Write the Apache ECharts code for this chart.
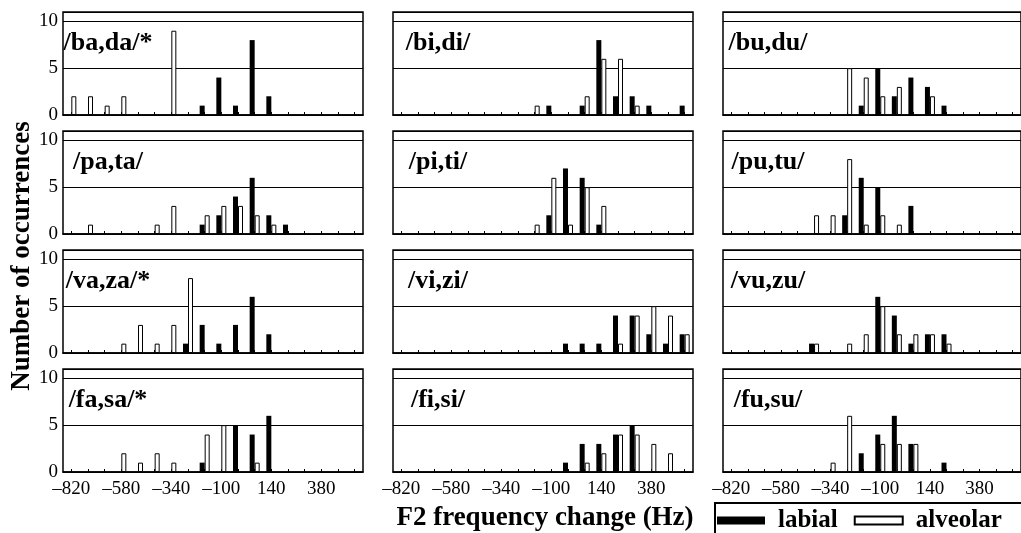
<!DOCTYPE html>
<html>
<head>
<meta charset="utf-8">
<script src="https://cdn.jsdelivr.net/npm/echarts@6/dist/echarts.min.js"></script>
<style>
html, body { margin: 0; padding: 0; background: #fff; }
#view-chart { width: 1021px; height: 533px; }
</style>
</head>
<body>
<div id="view-chart"></div>
<script>
// F2 change bins (Hz), 80 Hz wide
var bins = [-820, -740, -660, -580, -500, -420, -340, -260, -180, -100, -20, 60, 140, 220, 300, 380, 460, 540];
var panelNames = ["/ba,da/*", "/bi,di/", "/bu,du/", "/pa,ta/", "/pi,ti/", "/pu,tu/",
	"/va,za/*", "/vi,zi/", "/vu,zu/", "/fa,sa/*", "/fi,si/", "/fu,su/"];
var yTicks = [0, 5, 10];

var labial = [
	[0,0,0,0,0,0,0,0,1,4,1,8,2,0,0,0,0,0],
	[0,0,0,0,0,0,0,0,0,1,0,1,8,2,2,1,0,1],
	[0,0,0,0,0,0,0,0,1,5,2,4,3,1,0,0,0,0],
	[0,0,0,0,0,0,0,0,1,2,4,6,2,1,0,0,0,0],
	[0,0,0,0,0,0,0,0,0,2,7,6,1,0,0,0,0,0],
	[0,0,0,0,0,0,0,2,6,5,0,3,0,0,0,0,0,0],
	[0,0,0,0,0,0,0,1,3,1,3,6,2,0,0,0,0,0],
	[0,0,0,0,0,0,0,0,0,0,1,1,1,4,4,2,1,2],
	[0,0,0,0,0,1,0,0,0,6,4,1,2,2,0,0,0,0],
	[0,0,0,0,0,0,0,0,1,0,5,4,6,0,0,0,0,0],
	[0,0,0,0,0,0,0,0,0,0,1,3,3,4,5,0,0,0],
	[0,0,0,0,0,0,0,0,2,4,6,3,0,1,0,0,0,0]
];
var alveolar = [
	[2,2,1,2,0,0,9,0,0,0,0,0,0,0,0,0,0,0],
	[0,0,0,0,0,0,0,0,1,0,0,2,6,6,1,0,0,0],
	[0,0,0,0,0,0,0,5,4,2,3,0,2,0,0,0,0,0],
	[0,1,0,0,0,1,3,0,2,3,3,2,1,0,0,0,0,0],
	[0,0,0,0,0,0,0,0,1,6,1,5,3,0,0,0,0,0],
	[0,0,0,0,0,2,2,8,1,2,1,0,0,0,0,0,0,0],
	[0,0,0,1,3,1,3,8,0,0,0,0,0,0,0,0,0,0],
	[0,0,0,0,0,0,0,0,0,0,0,0,0,1,4,5,4,2],
	[0,0,0,0,0,1,0,1,2,5,2,2,2,1,0,0,0,0],
	[0,0,0,2,1,2,1,0,4,5,0,1,0,0,0,0,0,0],
	[0,0,0,0,0,0,0,0,0,0,0,1,2,4,4,3,2,0],
	[0,0,0,0,0,0,1,6,0,3,3,3,0,0,0,0,0,0]
];

var FONT = "'Liberation Serif', 'DejaVu Serif', serif";
var colLeft = [63, 393, 723], rowTop = [12, 131, 250, 369], gridW = 300, gridH = 103;

var grids = [], xAxes = [], yAxes = [], series = [], graphics = [];
panelNames.forEach(function(name, i) {
	var r = Math.floor(i / 3), c = i % 3;
	grids.push({
		left: colLeft[c], top: rowTop[r], width: gridW, height: gridH,
		show: true, borderColor: "#000", borderWidth: 1.5
	});
	xAxes.push({
		gridIndex: i, type: "category", data: bins, boundaryGap: true,
		axisLine: { lineStyle: { color: "#000", width: 1.5 } },
		axisTick: { show: true, inside: true, length: 3, interval: 0, alignWithLabel: true, lineStyle: { color: "#000" } },
		axisLabel: {
			show: r === 3, interval: 2, color: "#000", fontFamily: FONT, fontSize: 19, margin: 8,
			formatter: function(v) { return String(v).replace("-", "\u2013"); }
		},
		splitLine: { show: false }
	});
	yAxes.push({
		gridIndex: i, type: "value", min: 0, max: 11, interval: 5,
		axisLine: { show: false }, axisTick: { show: false },
		axisLabel: {
			show: c === 0, showMaxLabel: false, color: "#000", fontFamily: FONT, fontSize: 19, margin: 5,
			formatter: function(v) { return yTicks.indexOf(v) >= 0 ? String(v) : ""; }
		},
		splitLine: { show: true, lineStyle: { color: "#000", width: 1 } }
	});
	series.push({
		name: "labial", type: "bar", xAxisIndex: i, yAxisIndex: i,
		data: labial[i].map(function(v) { return v || "-"; }),
		barWidth: 5, barGap: "0%",
		itemStyle: { color: "#000" }, silent: true
	});
	series.push({
		name: "alveolar", type: "bar", xAxisIndex: i, yAxisIndex: i,
		data: alveolar[i].map(function(v) { return v || "-"; }),
		barWidth: 5, barGap: "0%",
		itemStyle: { color: "#fff", borderColor: "#000", borderWidth: 1 }, silent: true
	});
	// panel label
	graphics.push({
		type: "text", x: colLeft[c] + 45, y: rowTop[r] + 31,
		style: { text: name, fill: "#000", font: "bold 26px " + FONT, textAlign: "center", textVerticalAlign: "middle" }
	});
});

// axis titles and legend frame
graphics.push({
	type: "text", x: 545, y: 518,
	style: { text: "F2 frequency change (Hz)", fill: "#000", font: "bold 27px " + FONT, textAlign: "center", textVerticalAlign: "middle" }
});
graphics.push({
	type: "text", x: 22, y: 256, rotation: Math.PI / 2,
	style: { text: "Number of occurrences", fill: "#000", font: "bold 27px " + FONT, textAlign: "center", textVerticalAlign: "middle" }
});
graphics.push({
	type: "rect", shape: { x: 715, y: 503, width: 320, height: 40 },
	style: { fill: "none", stroke: "#000", lineWidth: 2 }
});

var myChart = echarts.init(document.getElementById("view-chart"));
myChart.setOption({
	animation: false,
	grid: grids, xAxis: xAxes, yAxis: yAxes, series: series,
	legend: {
		data: ["labial", "alveolar"], left: 717, top: 508, padding: 0,
		icon: "rect", itemWidth: 48, itemHeight: 8, itemGap: 16,
		textStyle: { color: "#000", fontFamily: FONT, fontWeight: "bold", fontSize: 25, padding: [0, 0, 0, 8] }
	},
	graphic: graphics
});
</script>
</body>
</html>
